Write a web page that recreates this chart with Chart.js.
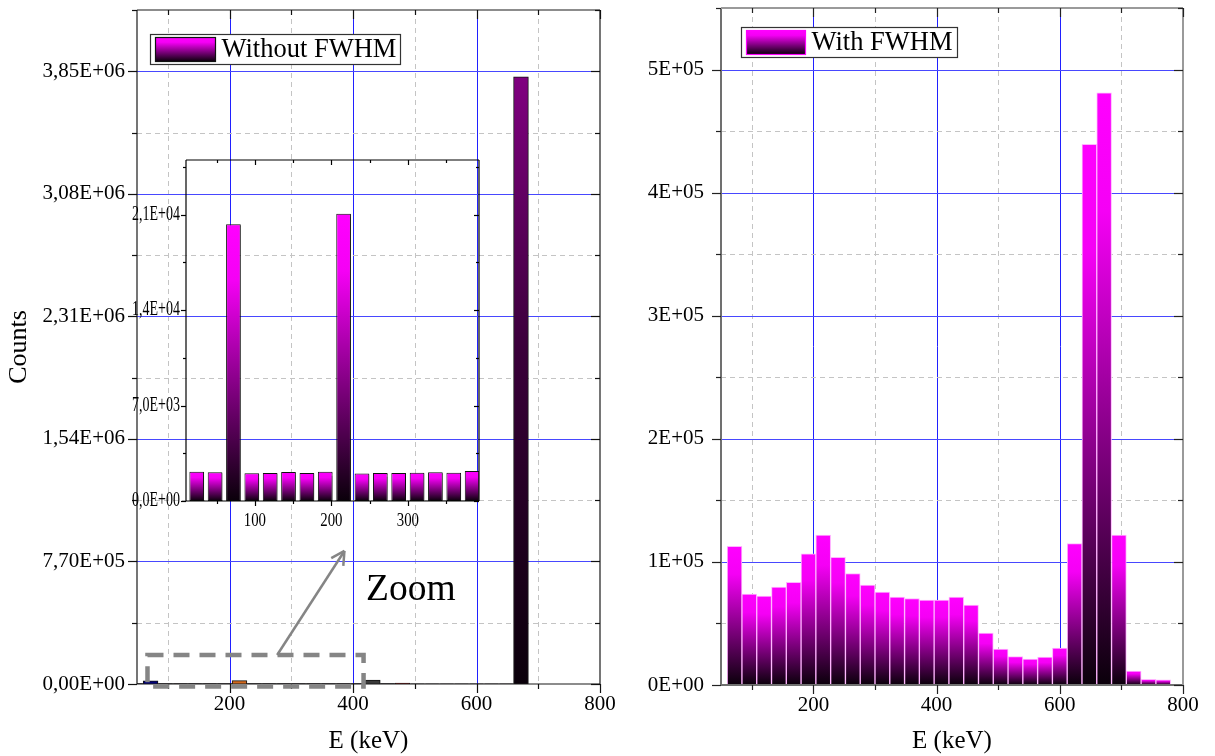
<!DOCTYPE html>
<html>
<head>
<meta charset="utf-8">
<title>Energy spectra</title>
<script src="https://cdn.jsdelivr.net/npm/chart.js@4/dist/chart.umd.min.js"></script>
<style>
  html, body { margin: 0; padding: 0; background: #fff; }
  #wrap { position: relative; width: 1215px; height: 756px; overflow: hidden; }
  canvas { position: absolute; }
  #left { left: 0; top: 0; }
  #inset { left: 120px; top: 150px; }
  #right { left: 610px; top: 0; }
</style>
</head>
<body>
<div id="wrap">
  <canvas id="left" width="615" height="756"></canvas>
  <canvas id="right" width="605" height="756"></canvas>
  <canvas id="inset" width="370" height="390"></canvas>
</div>
<script>
const FONT = "'Liberation Serif', 'Times New Roman', serif";

// energy bins (keV), 24 keV wide
const binCenters = [24, 48, 72, 96, 120, 144, 168, 192, 216, 240, 264, 288, 312, 336, 360, 384,
  408, 432, 456, 480, 504, 528, 552, 576, 600, 624, 648, 672, 696, 720, 744, 768];

// counts per bin, ideal detector
const withoutFwhm = [2150, 2110, 20290, 2030, 2060, 2130, 2060, 2150, 21060, 2010, 2060, 2060, 2080, 2110, 2080, 2200,
  2100, 25000, 1900, 5000, 1500, 1300, 1200, 1100, 1000, 900, 800, 3815000, 0, 0, 0, 0];

// counts per bin, Gaussian broadened
const withFwhm = [0, 600, 112700, 73800, 72200, 79500, 83500, 106500, 121700, 103800, 90600, 81100, 75400, 71400, 70300, 68900,
  68900, 71400, 64900, 42200, 29200, 23000, 21100, 22700, 30000, 114900, 439300, 481000, 121700, 11400, 4600, 4100];

// tick positions (labels only on the major ones)
const energyTicks = [100, 200, 300, 400, 500, 600, 700, 800];
const leftCountTicks = [0, 385000, 770000, 1155000, 1540000, 1925000, 2310000, 2695000, 3080000, 3465000, 3850000, 4235000];
const rightCountTicks = [0, 50000, 100000, 150000, 200000, 250000, 300000, 350000, 400000, 450000, 500000, 550000];
const insetEnergyTicks = [50, 100, 150, 200, 250, 300, 350];
const insetCountTicks = [0, 3500, 7000, 10500, 14000, 17500, 21000, 24500];

const energyMin = 50, energyMax = 800, energyMajor = 200;
const leftMajor = 770000, rightMajor = 100000;
const insetMin = 10, insetMax = 393, insetCountMax = 25000, insetMajorX = 100, insetMajorY = 7000;

// bars of the full spectrum drawn in other colours
const peakColors = { 72: '#00007a', 216: '#d2691e', 432: '#3a3a3a', 480: '#8b1a1a' };

function points(values) {
  return binCenters.map((x, i) => ({ x: x, y: values[i] }));
}

function useTicks(list) {
  return s => { s.ticks = list.map(v => ({ value: v })); };
}

function fixBox(w, h) {
  return s => {
    if (w !== null) s.width = w;
    if (h !== null) s.height = h;
    s.paddingTop = s.paddingBottom = s.paddingLeft = s.paddingRight = 0;
  };
}

function sci(v, digits) {
  const parts = v.toExponential(digits).split('e');
  const ex = parseInt(parts[1], 10);
  return parts[0].replace('.', ',') + 'E' + (ex < 0 ? '-' : '+') + String(Math.abs(ex)).padStart(2, '0');
}

function isMajor(v, step) {
  const r = v / step;
  return Math.abs(r - Math.round(r)) < 1e-6;
}

function line(ctx, x1, y1, x2, y2) {
  ctx.beginPath();
  ctx.moveTo(x1, y1);
  ctx.lineTo(x2, y2);
  ctx.stroke();
}

// vertical gradient per bar, from the top of the bar down to the baseline
function barGradient(stops, fallback) {
  return function (c) {
    if (c.type !== 'data' || !c.chart.chartArea) return fallback;
    const y = c.chart.scales.y;
    const y0 = y.getPixelForValue(0);
    const y1 = y.getPixelForValue(c.parsed.y);
    if (Math.abs(y0 - y1) < 1) return fallback;
    const g = c.chart.ctx.createLinearGradient(0, y1, 0, y0);
    stops.forEach(s => g.addColorStop(s[0], s[1]));
    return g;
  };
}

const magentaStops = [[0, '#ff00ff'], [0.2, '#f500f5'], [1, '#0a000a']];
const purpleStops = [[0, '#800080'], [0.45, '#3a003a'], [1, '#0a000a']];

// grid (blue major / grey dashed minor), box and Origin style tick marks
const originFrame = {
  id: 'originFrame',
  beforeDatasetsDraw(chart, args, o) {
    if (!o.grid) return;
    const { ctx, chartArea: a, scales: { x, y } } = chart;
    ctx.save();
    ctx.lineWidth = 1;
    x.ticks.forEach(t => {
      const px = Math.round(x.getPixelForValue(t.value)) + 0.5;
      if (px < a.left + 2 || px > a.right - 2) return;
      const major = isMajor(t.value, o.xMajor);
      ctx.strokeStyle = major ? '#2020ff' : '#c4c4c4';
      ctx.setLineDash(major ? [] : [5, 4]);
      line(ctx, px, a.top, px, a.bottom);
    });
    y.ticks.forEach(t => {
      const py = Math.round(y.getPixelForValue(t.value)) + 0.5;
      if (py < a.top + 2 || py > a.bottom - 2) return;
      const major = isMajor(t.value, o.yMajor);
      ctx.strokeStyle = major ? '#4848ff' : '#c4c4c4';
      ctx.setLineDash(major ? [] : [5, 4]);
      line(ctx, a.left, py, a.right, py);
    });
    ctx.restore();
  },
  afterDatasetsDraw(chart, args, o) {
    const { ctx, chartArea: a, scales: { x, y } } = chart;
    ctx.save();
    ctx.lineWidth = o.frameWidth;
    ctx.strokeStyle = o.frameColor;
    line(ctx, a.left, a.bottom, a.right, a.bottom);
    line(ctx, a.left, a.top, a.left, a.bottom);
    ctx.strokeStyle = o.farColor || o.frameColor;
    line(ctx, a.left, a.top, a.right, a.top);
    line(ctx, a.right, a.top, a.right, a.bottom);
    ctx.strokeStyle = o.tickColor;
    ctx.lineWidth = 1.2;
    x.ticks.forEach(t => {
      const px = Math.round(x.getPixelForValue(t.value)) + 0.5;
      const len = isMajor(t.value, o.xMajor) ? o.tickMajor : o.tickMinor;
      line(ctx, px, a.bottom, px, a.bottom + len);
      line(ctx, px, a.top, px, a.top + len);
    });
    y.ticks.forEach(t => {
      const py = Math.round(y.getPixelForValue(t.value)) + 0.5;
      const len = isMajor(t.value, o.yMajor) ? o.tickMajor : o.tickMinor;
      line(ctx, a.left - len, py, a.left, py);
      line(ctx, a.right - len, py, a.right, py);
    });
    ctx.restore();
  }
};

// boxed legend inside the plot, swatch with the bar gradient
const boxLegend = {
  id: 'boxLegend',
  afterDraw(chart, args, o) {
    const { ctx, chartArea: a } = chart;
    const label = chart.data.datasets[0].label;
    const bx = Math.round(a.left + o.dx) + 0.5, by = Math.round(a.top + o.dy) + 0.5;
    ctx.save();
    ctx.fillStyle = '#fff';
    ctx.fillRect(bx, by, o.w, o.h);
    ctx.strokeStyle = '#333';
    ctx.lineWidth = 1.2;
    ctx.strokeRect(bx, by, o.w, o.h);
    const sx = bx + 5, sy = by + 3, sw = o.sw, sh = o.h - 6;
    const g = ctx.createLinearGradient(0, sy, 0, sy + sh);
    magentaStops.forEach(s => g.addColorStop(s[0], s[1]));
    ctx.fillStyle = g;
    ctx.fillRect(sx, sy, sw, sh);
    ctx.strokeStyle = o.swatchStroke;
    ctx.lineWidth = 1.2;
    ctx.strokeRect(sx, sy, sw, sh);
    ctx.fillStyle = '#000';
    ctx.font = '26.5px ' + FONT;
    ctx.textBaseline = 'middle';
    ctx.fillText(label, sx + sw + 6, by + o.h / 2 + 1);
    ctx.restore();
  }
};

// dashed box around the low-energy region, arrow and caption
const zoomMark = {
  id: 'zoomMark',
  afterDraw(chart, args, o) {
    const { ctx, scales: { x, y } } = chart;
    const x0 = x.getPixelForValue(o.box[0]), x1 = x.getPixelForValue(o.box[1]);
    const y0 = y.getPixelForValue(o.box[2]), y1 = y.getPixelForValue(o.box[3]);
    ctx.save();
    ctx.strokeStyle = '#858585';
    ctx.lineWidth = 4.5;
    ctx.setLineDash([16, 10]);
    ctx.strokeRect(x0, y1, x1 - x0, y0 - y1);
    ctx.setLineDash([]);
    ctx.lineWidth = 2.5;
    const ax0 = x.getPixelForValue(o.arrow[0]), ay0 = y.getPixelForValue(o.arrow[1]);
    const ax1 = x.getPixelForValue(o.arrow[2]), ay1 = y.getPixelForValue(o.arrow[3]);
    line(ctx, ax0, ay0, ax1, ay1);
    const ang = Math.atan2(ay1 - ay0, ax1 - ax0);
    [0.5, -0.5].forEach(d => {
      line(ctx, ax1, ay1, ax1 - 15 * Math.cos(ang + d), ay1 - 15 * Math.sin(ang + d));
    });
    ctx.fillStyle = '#000';
    ctx.font = '37.5px ' + FONT;
    ctx.fillText(o.label, x.getPixelForValue(o.text[0]), y.getPixelForValue(o.text[1]));
    ctx.restore();
  }
};

// narrow tick labels of the inset
const insetLabels = {
  id: 'insetLabels',
  afterDraw(chart, args, o) {
    const { ctx, chartArea: a, scales: { x, y } } = chart;
    const ky = 0.7, kx = 0.78;
    ctx.save();
    ctx.fillStyle = '#000';
    ctx.font = '20px ' + FONT;
    ctx.textBaseline = 'middle';
    ctx.save();
    ctx.scale(ky, 1);
    ctx.textAlign = 'right';
    y.ticks.forEach(t => {
      if (!isMajor(t.value, insetMajorY)) return;
      ctx.fillText(sci(t.value, 1), (a.left - 6) / ky, y.getPixelForValue(t.value));
    });
    ctx.restore();
    ctx.scale(kx, 1);
    ctx.textAlign = 'center';
    ctx.font = '19px ' + FONT;
    x.ticks.forEach(t => {
      if (!isMajor(t.value, insetMajorX)) return;
      ctx.fillText(String(t.value), x.getPixelForValue(t.value) / kx, a.bottom + 20);
    });
    ctx.restore();
  }
};

const barShadow = {
  id: 'barShadow',
  beforeDatasetDraw(chart) {
    const ctx = chart.ctx;
    ctx.save();
    ctx.shadowColor = 'rgba(0,0,0,0.35)';
    ctx.shadowOffsetX = 2;
    ctx.shadowOffsetY = 1;
    ctx.shadowBlur = 1;
  },
  afterDatasetDraw(chart) {
    chart.ctx.restore();
  }
};

Chart.defaults.font.family = FONT;
Chart.defaults.color = '#000';

function energyAxis(height) {
  return {
    type: 'linear', min: energyMin, max: energyMax, offset: false,
    grid: { display: false, drawTicks: false }, border: { display: false },
    afterBuildTicks: useTicks(energyTicks),
    ticks: {
      autoSkip: false, maxRotation: 0, padding: 8,
      font: { size: 21 },
      callback: v => isMajor(v, energyMajor) ? String(v) : ''
    },
    title: { display: true, text: 'E (keV)', font: { size: 25 }, padding: { top: 0, bottom: 0 } },
    afterFit: fixBox(null, height)
  };
}

const leftFill = barGradient(purpleStops, '#0a000a');

new Chart(document.getElementById('left'), {
  type: 'bar',
  data: {
    datasets: [{
      label: 'Without FWHM',
      data: points(withoutFwhm),
      backgroundColor: c => (c.type === 'data' && peakColors[c.raw.x]) || leftFill(c),
      borderColor: '#111',
      borderWidth: 1,
      borderSkipped: 'start',
      barPercentage: 1,
      categoryPercentage: 1
    }]
  },
  options: {
    responsive: false, animation: false, events: [],
    layout: { padding: { top: 10, right: 15, left: 0, bottom: 0 } },
    plugins: {
      legend: { display: false }, tooltip: { enabled: false },
      originFrame: { grid: true, xMajor: energyMajor, yMajor: leftMajor, frameColor: '#1a1a1a', frameWidth: 1.2, tickColor: '#111', tickMajor: 9, tickMinor: 5 },
      boxLegend: { dx: 13, dy: 24, w: 250, h: 30, sw: 60, swatchStroke: '#111' },
      zoomMark: { box: [67, 417, -16000, 182000], arrow: [277, 182000, 386, 836000], text: [421, 528000], label: 'Zoom' }
    },
    scales: {
      x: energyAxis(72),
      y: {
        min: 0, max: leftCountTicks[leftCountTicks.length - 1],
        grid: { display: false, drawTicks: false }, border: { display: false },
        afterBuildTicks: useTicks(leftCountTicks),
        ticks: {
          autoSkip: false, padding: 12,
          font: { size: 21 },
          callback: v => isMajor(v, leftMajor) ? sci(v, 2) : ''
        },
        title: { display: true, text: 'Counts', font: { size: 26 }, padding: { top: 4, bottom: 0 } },
        afterFit: fixBox(137, null)
      }
    }
  },
  plugins: [originFrame, boxLegend, zoomMark]
});

new Chart(document.getElementById('inset'), {
  type: 'bar',
  data: {
    datasets: [{
      label: 'Without FWHM',
      data: points(withoutFwhm),
      backgroundColor: barGradient(magentaStops, '#0a000a'),
      borderColor: '#111',
      borderWidth: 1,
      borderSkipped: false,
      barPercentage: 0.8,
      categoryPercentage: 1
    }]
  },
  options: {
    responsive: false, animation: false, events: [],
    layout: { padding: { top: 10, right: 11, left: 0, bottom: 0 } },
    plugins: {
      legend: { display: false }, tooltip: { enabled: false },
      originFrame: { grid: false, xMajor: insetMajorX, yMajor: insetMajorY, frameColor: '#000', frameWidth: 1.2, tickColor: '#000', tickMajor: 5, tickMinor: 3 }
    },
    scales: {
      x: {
        type: 'linear', min: insetMin, max: insetMax, offset: false,
        grid: { display: false, drawTicks: false }, border: { display: false },
        afterBuildTicks: useTicks(insetEnergyTicks),
        ticks: { display: false },
        afterFit: fixBox(null, 39)
      },
      y: {
        min: 0, max: insetCountMax,
        grid: { display: false, drawTicks: false }, border: { display: false },
        afterBuildTicks: useTicks(insetCountTicks),
        ticks: { display: false },
        afterFit: fixBox(66, null)
      }
    }
  },
  plugins: [originFrame, barShadow, insetLabels]
});

new Chart(document.getElementById('right'), {
  type: 'bar',
  data: {
    datasets: [{
      label: 'With FWHM',
      data: points(withFwhm),
      backgroundColor: barGradient(magentaStops, '#ff00ff'),
      borderColor: '#ffb3ff',
      borderWidth: 1,
      borderSkipped: 'start',
      barPercentage: 1,
      categoryPercentage: 1
    }]
  },
  options: {
    responsive: false, animation: false, events: [],
    layout: { padding: { top: 8, right: 32, left: 0, bottom: 0 } },
    plugins: {
      legend: { display: false }, tooltip: { enabled: false },
      originFrame: { grid: true, xMajor: energyMajor, yMajor: rightMajor, frameColor: '#707070', farColor: '#9a9a9a', frameWidth: 2, tickColor: '#222', tickMajor: 9, tickMinor: 5 },
      boxLegend: { dx: 20, dy: 19, w: 216, h: 30, sw: 59, swatchStroke: '#ff00ff' }
    },
    scales: {
      x: energyAxis(71),
      y: {
        min: 0, max: rightCountTicks[rightCountTicks.length - 1],
        grid: { display: false, drawTicks: false }, border: { display: false },
        afterBuildTicks: useTicks(rightCountTicks),
        ticks: {
          autoSkip: false, padding: 17,
          font: { size: 21 },
          callback: v => isMajor(v, rightMajor) ? sci(v, 0) : ''
        },
        afterFit: fixBox(111, null)
      }
    }
  },
  plugins: [originFrame, boxLegend]
});
</script>
</body>
</html>
